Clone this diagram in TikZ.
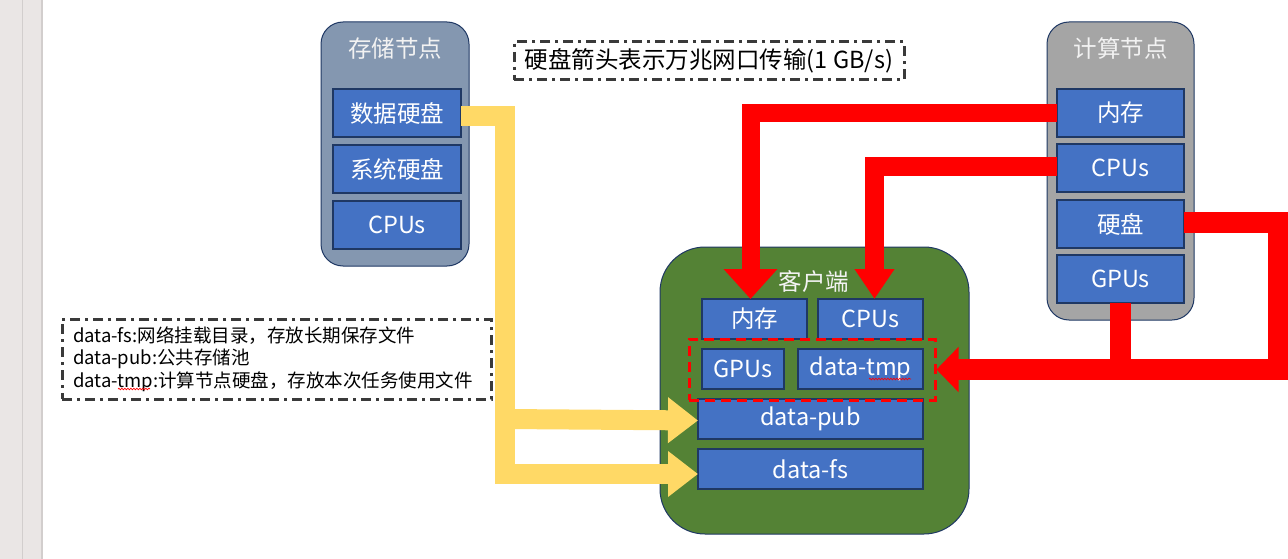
\documentclass[tikz,border=0pt]{standalone}
\usepackage{fontspec}
\setmainfont{Noto Sans CJK SC}
\usetikzlibrary{arrows.meta,decorations.pathmorphing}
\definecolor{boxblue}{HTML}{4472C4}
\definecolor{conedge}{HTML}{1F3864}
\definecolor{stgray}{HTML}{8497B0}
\definecolor{cpgray}{HTML}{A5A5A5}
\definecolor{clgreen}{HTML}{548235}
\definecolor{ylw}{HTML}{FFD966}
\definecolor{strip}{HTML}{EAE6E5}
\definecolor{stripline}{HTML}{D2CECD}
\definecolor{legline}{HTML}{3A3A3A}
\definecolor{titletext}{HTML}{F2F2F2}
\begin{document}
\begin{tikzpicture}[x=1pt,y=-1pt,
  container/.style={draw=conedge, line width=1pt, inner sep=0pt, outer sep=0pt},
  ibox/.style={draw=conedge, fill=boxblue, line width=1.2pt, text=white,
    font=\fontsize{23.5}{27}\selectfont, inner sep=0pt, outer sep=0pt, minimum height=48pt},
  cbox/.style={ibox, minimum height=40pt},
  ctitle/.style={text=titletext, font=\fontsize{23.5}{27}\selectfont, inner sep=0pt},
  dashdotbox/.style={draw=legline, line width=3pt, dash pattern=on 10pt off 5pt on 3pt off 5pt, inner sep=0pt},
  redflow/.style={draw=red, line join=miter},
  ylwflow/.style={draw=ylw, line width=20pt, line join=miter, -{Triangle[length=30pt,width=44pt]}},
  squiggle/.style={draw=red, line width=0.7pt, decorate, decoration={snake, amplitude=0.8pt, segment length=3pt}}
]
\useasboundingbox (0,0) rectangle (1288,559);
\fill[white] (0,0) rectangle (1288,559);
\fill[strip] (0,0) rectangle (42,559);
\draw[stripline, line width=1pt] (22,0) -- (22,559);
\draw[stripline, line width=1.2pt] (42,0) -- (42,559);

% storage node
\node[container, fill=stgray, rounded corners=22pt, minimum width=148pt, minimum height=244pt] (stor) at (395,144) {};
\node[ctitle] (stitle) at (395,49) {存储节点};
\node[ibox, minimum width=128pt] (sdata) at (397,113) {数据硬盘};
\node[ibox, minimum width=128pt] (ssys) at (397,169) {系统硬盘};
\node[ibox, minimum width=128pt] (scpu) at (397,225) {CPUs};

% compute node
\node[container, fill=cpgray, rounded corners=22pt, minimum width=147pt, minimum height=298pt] (comp) at (1120.5,171) {};
\node[ctitle] (ktitle) at (1120.5,49) {计算节点};
\node[ibox, minimum width=127pt] (kmem) at (1120.5,113) {内存};
\node[ibox, minimum width=127pt] (kcpu) at (1120.5,168) {CPUs};
\node[ibox, minimum width=127pt] (kdisk) at (1120.5,224) {硬盘};
\node[ibox, minimum width=127pt] (kgpu) at (1120.5,279) {GPUs};

% client
\node[container, fill=clgreen, rounded corners=45pt, minimum width=309pt, minimum height=287pt] (client) at (814.5,390.5) {};
\node[ctitle] (ctitle) at (814,282) {客户端};
\node[cbox, minimum width=105pt] (cmem) at (754.5,319) {内存};
\node[cbox, minimum width=105pt] (ccpu) at (870.5,319) {CPUs};
\node[cbox, minimum width=82pt] (cgpu) at (743,369) {GPUs};
\node[cbox, minimum width=125pt] (ctmp) at (860.5,369) {data-tmp};
\node[cbox, minimum width=225pt] (dpub) at (810.5,419) {data-pub};
\node[cbox, minimum width=225pt] (dfs) at (810.5,469) {data-fs};
\node[draw=red, line width=3pt, dash pattern=on 10pt off 6pt, inner sep=0pt, minimum width=246pt, minimum height=61pt] (tmpgrp) at (812,369.5) {};
\draw[squiggle] (869,379) -- (911,379);

% note box
\node[dashdotbox, minimum width=390pt, minimum height=38pt, font=\fontsize{23.5}{27}\selectfont] (note) at (709,61) {硬盘箭头表示万兆网口传输(1 GB/s)};

% legend
\node[dashdotbox, minimum width=429pt, minimum height=80pt, text width=407pt, align=left,
  font=\fontsize{18.5}{22.5}\selectfont] (legend) at (276.5,359)
  {data-fs:网络挂载目录，存放长期保存文件\\data-pub:公共存储池\\data-tmp:计算节点硬盘，存放本次任务使用文件};
\draw[squiggle] (118,389) -- (150,389);

% yellow flows
\coordinate (yv) at (505,300);
\draw[ylwflow] ([yshift=-3pt]sdata.east) -| (yv) |- ([yshift=-5pt]dfs.west);
\draw[ylwflow] (yv |- dpub.west) -- ([yshift=-1.5pt]dpub.west);

% red flows
\draw[redflow, line width=18pt, -{Triangle[length=30pt,width=52pt]}] (kmem.west) -| ([xshift=-4pt]cmem.north);
\draw[redflow, line width=19pt, -{Triangle[length=30pt,width=38pt]}] ([yshift=1.5pt]kcpu.west) -| ([xshift=4pt]ccpu.north);
\coordinate (rc) at (1278,300);
\draw[redflow, line width=21pt] (kgpu.south) -- (kgpu.south |- tmpgrp.east);
\draw[redflow, line width=21pt, -{Triangle[length=22pt,width=44pt]}] ([yshift=2pt]kdisk.east) -- ([yshift=2pt]kdisk.east -| rc) -- (rc |- tmpgrp.east) -- (tmpgrp.east);
\end{tikzpicture}
\end{document}
